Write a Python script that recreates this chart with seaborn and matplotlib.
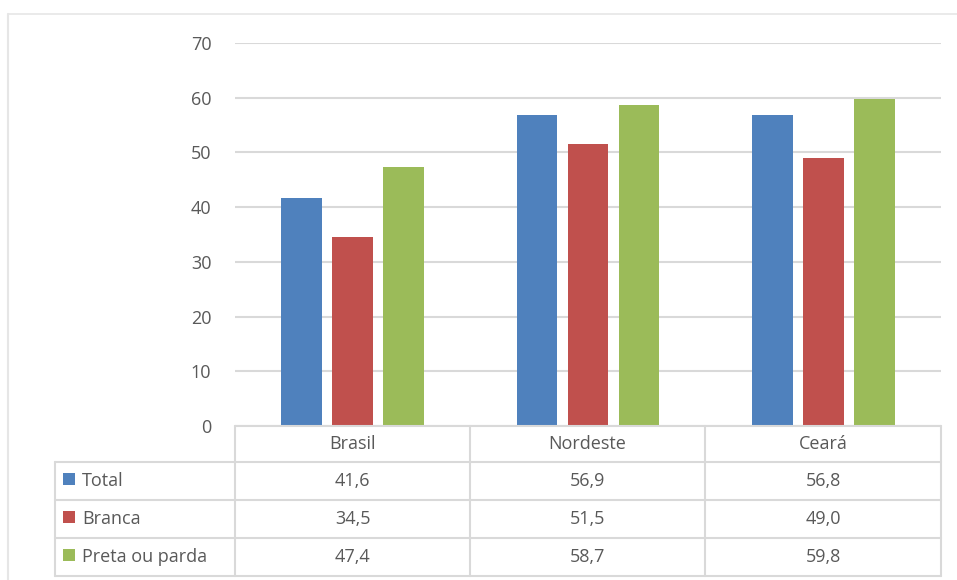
import matplotlib
matplotlib.use("Agg")
import matplotlib.pyplot as plt
import seaborn as sns
import pandas as pd
from matplotlib.lines import Line2D
from matplotlib.patches import Rectangle

categories = ["Brasil", "Nordeste", "Ceará"]
series = ["Total", "Branca", "Preta ou parda"]
total = [41.6, 56.9, 56.8]
branca = [34.5, 51.5, 49.0]
preta = [47.4, 58.7, 59.8]
colors = ["#4F81BD", "#C0504D", "#9BBB59"]
yticks = [0, 10, 20, 30, 40, 50, 60, 70]

values = [total, branca, preta]
rows = []
for s, vals in zip(series, values):
    for c, v in zip(categories, vals):
        rows.append({"cat": c, "serie": s, "valor": v})
df = pd.DataFrame(rows)

sns.set_theme(style="white")
plt.rcParams["font.family"] = ["Open Sans", "DejaVu Sans"]

W, H = 957, 580
fig = plt.figure(figsize=(W / 100, H / 100), dpi=100)

def fx(px):
    return px / W

def fy(py):
    return 1 - py / H

txt = "#595959"
grid = "#D9D9D9"
fs = 13

# plot area
x0, x1 = 235, 941
ytop, ybot = 43, 426
ax = fig.add_axes([fx(x0), fy(ybot), fx(x1) - fx(x0), (ybot - ytop) / H])
sns.barplot(data=df, x="cat", y="valor", hue="serie", order=categories,
            hue_order=series, palette=colors, width=0.65, gap=0.2,
            saturation=1, ax=ax, legend=False, edgecolor="none")
ax.set_ylim(0, 70)
ax.set_xlim(-0.5, len(categories) - 0.5)
ax.set_yticks(yticks)
ax.set_yticklabels([str(t) for t in yticks], color=txt, fontsize=fs)
ax.tick_params(axis="y", length=0, pad=17)
ax.set_xticks([])
ax.set_xlabel("")
ax.set_ylabel("")
for sp in ax.spines.values():
    sp.set_visible(False)
ax.yaxis.grid(True, color=grid, linewidth=1.5)
ax.set_axisbelow(True)

# outer chart frame
frame_c = "#E6E6E6"
fig.add_artist(Line2D([fx(8), 1.0], [fy(14), fy(14)], color=frame_c, lw=1.2))
fig.add_artist(Line2D([fx(8), fx(8)], [fy(14), 0.0], color=frame_c, lw=1.5))

# data table
col_edges = [235, 470, 705, 941]
tab_left = 55
row_edges = [426, 462, 500, 538, 576]
lw = 1.5
fig.add_artist(Line2D([fx(x0), fx(x1)], [fy(426), fy(426)], color=grid, lw=lw))
for ry in row_edges[1:]:
    fig.add_artist(Line2D([fx(tab_left), fx(x1)], [fy(ry), fy(ry)], color=grid, lw=lw))
for cx in col_edges:
    fig.add_artist(Line2D([fx(cx), fx(cx)], [fy(426), fy(576)], color=grid, lw=lw))
fig.add_artist(Line2D([fx(tab_left), fx(tab_left)], [fy(462), fy(576)], color=grid, lw=lw))

for i, c in enumerate(categories):
    cx = (col_edges[i] + col_edges[i + 1]) / 2
    fig.text(fx(cx), fy((row_edges[0] + row_edges[1]) / 2), c, ha="center",
             va="center", color=txt, fontsize=fs)
for r, (s, vals, col) in enumerate(zip(series, values, colors)):
    cy = (row_edges[r + 1] + row_edges[r + 2]) / 2
    fig.add_artist(Rectangle((fx(63), fy(cy + 4)), fx(12), 12 / H,
                             facecolor=col, edgecolor="none"))
    fig.text(fx(82), fy(cy), s, ha="left", va="center", color=txt, fontsize=fs)
    for i, v in enumerate(vals):
        cx = (col_edges[i] + col_edges[i + 1]) / 2
        fig.text(fx(cx), fy(cy), f"{v:.1f}".replace(".", ","), ha="center",
                 va="center", color=txt, fontsize=fs)

fig.savefig("out.png", dpi=100, facecolor="white")
